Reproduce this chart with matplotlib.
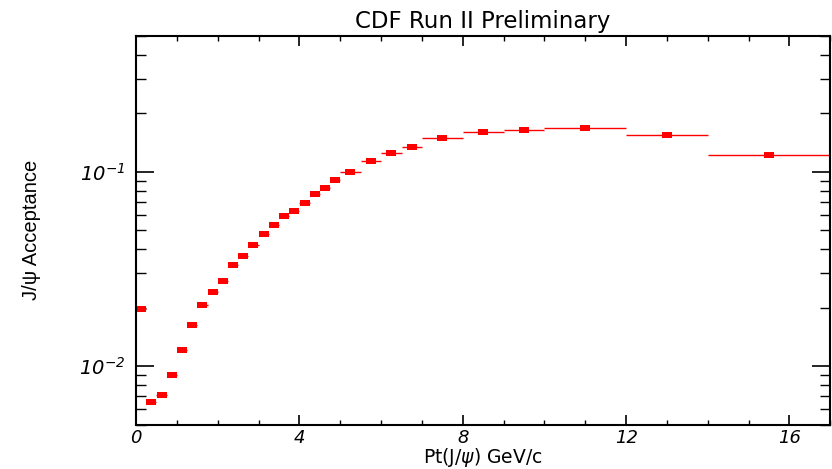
import numpy as np
import matplotlib
matplotlib.use("Agg")
import matplotlib.pyplot as plt
from matplotlib.ticker import LogLocator, FixedLocator, MultipleLocator, NullFormatter

# bin edges in Pt (GeV/c) and measured acceptance
bin_lo = [0.0, 0.25, 0.5, 0.75, 1.0, 1.25, 1.5, 1.75, 2.0, 2.25,
          2.5, 2.75, 3.0, 3.25, 3.5, 3.75, 4.0, 4.25, 4.5, 4.75,
          5.0, 5.5, 6.0, 6.5, 7.0, 8.0, 9.0, 10.0, 12.0, 14.0]
bin_hi = [0.25, 0.5, 0.75, 1.0, 1.25, 1.5, 1.75, 2.0, 2.25, 2.5,
          2.75, 3.0, 3.25, 3.5, 3.75, 4.0, 4.25, 4.5, 4.75, 5.0,
          5.5, 6.0, 6.5, 7.0, 8.0, 9.0, 10.0, 12.0, 14.0, 17.0]
acc = [0.0197, 0.00655, 0.0071, 0.0090, 0.0121, 0.0163, 0.0207, 0.0242, 0.0274, 0.0333,
       0.0369, 0.0419, 0.0481, 0.0534, 0.0592, 0.0631, 0.0694, 0.0772, 0.0826, 0.0912,
       0.1001, 0.1143, 0.1257, 0.1349, 0.150, 0.161, 0.165, 0.169, 0.1556, 0.122]

plt.rcParams['font.family'] = ['DejaVu Sans']
plt.rcParams['mathtext.fontset'] = 'custom'
plt.rcParams['mathtext.rm'] = 'DejaVu Sans:italic'
plt.rcParams['mathtext.it'] = 'DejaVu Sans:italic'

lo = np.array(bin_lo)
hi = np.array(bin_hi)
xc = (lo + hi) / 2
xerr = (hi - lo) / 2

fig = plt.figure(figsize=(8.32, 4.69), dpi=100)
ax = fig.add_axes([0.1635, 0.0945, 0.998 - 0.1635, 0.9232 - 0.0945])

rect = [(-1, -0.53), (1, -0.53), (1, 0.53), (-1, 0.53), (-1, -0.53)]
ax.errorbar(xc, acc, xerr=xerr, fmt='none', ecolor='red', elinewidth=1.0, capsize=0)
ax.plot(xc, acc, linestyle='none', marker=rect, markersize=7.7,
        color='red', markeredgewidth=0)

ax.set_yscale('log')
ax.set_xlim(0, 17)
ax.set_ylim(0.005, 0.5)

ax.xaxis.set_minor_locator(MultipleLocator(1))
ax.set_xticks([0, 4, 8, 12, 16])
ax.set_xticklabels(['0', '4', '8', '12', '16'], fontstyle='italic', fontsize=13)

ax.yaxis.set_major_locator(FixedLocator([0.01, 0.1]))
ax.yaxis.set_minor_locator(LogLocator(base=10, subs=np.arange(2, 10)))
ax.yaxis.set_minor_formatter(NullFormatter())
ax.set_yticklabels([r'$10^{-2}$', r'$10^{-1}$'], fontsize=14)

ax.tick_params(which='both', direction='in', top=True, right=True, color='black')
ax.tick_params(axis='x', which='major', length=7.5, width=1.2, pad=3)
ax.tick_params(axis='x', which='minor', length=3.6, width=1.0)
ax.tick_params(axis='y', which='major', length=13, width=1.2, pad=8)
ax.tick_params(axis='y', which='minor', length=7, width=1.0)

for s in ax.spines.values():
    s.set_linewidth(1.5)

ax.set_title('CDF Run II Preliminary', fontsize=16.5, pad=6)

ax.set_xlabel(r'Pt(J/$\psi$) GeV/c', fontsize=13.5)
ax.xaxis.set_label_coords(0.5, -0.084)
ax.xaxis.label.set_va('center')

ax.set_ylabel('J/ψ Acceptance', fontsize=14.5, family=['Liberation Sans', 'DejaVu Sans'])
ax.yaxis.set_label_coords(-0.151, 0.5)
ax.yaxis.label.set_va('center')

fig.savefig('out.png', dpi=100)
